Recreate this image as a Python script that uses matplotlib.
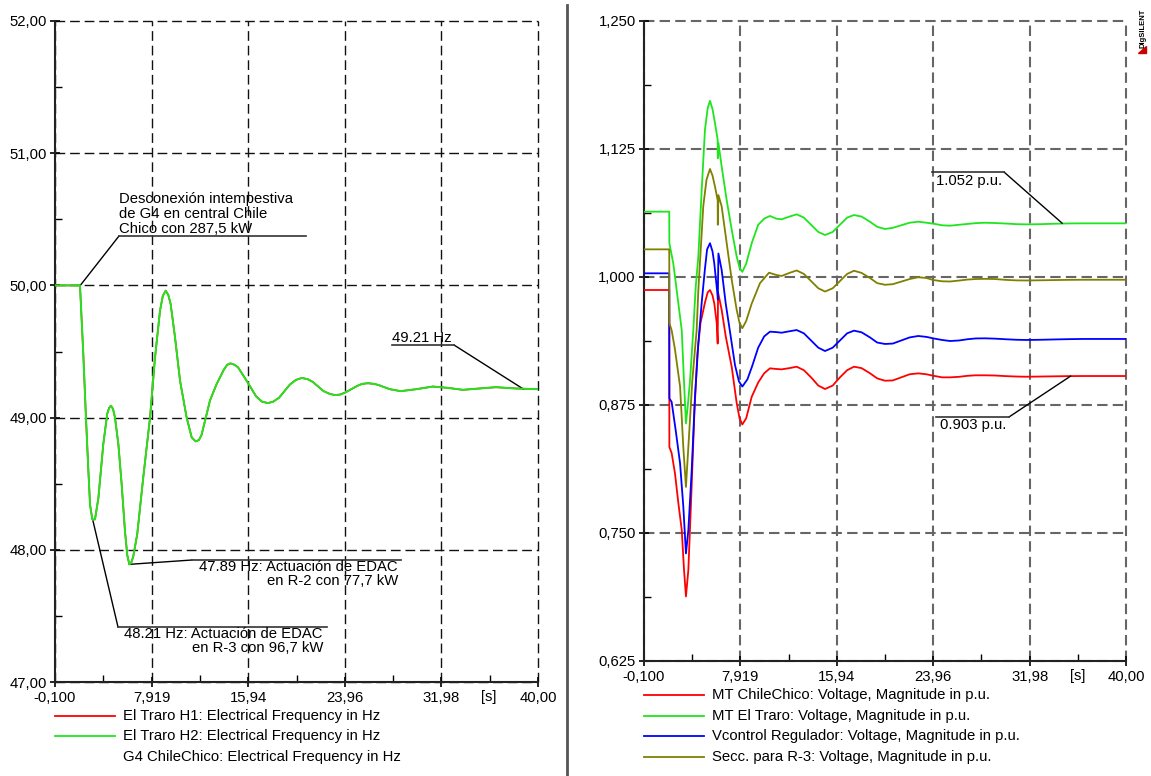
import matplotlib
matplotlib.use("Agg")
import matplotlib.pyplot as plt
from matplotlib.lines import Line2D
from matplotlib.patches import Polygon

plt.rcParams["font.family"] = ["Liberation Sans", "DejaVu Sans"]
plt.rcParams["font.size"] = 10.7

W, H = 1151, 776

# ---------- data: frequency (left) ----------
t_freq = [-0.1, 1.975, 2.25, 2.47, 2.67, 2.81, 3.0, 3.22, 3.5, 3.91, 4.24, 4.4,
          4.55, 4.72, 4.88, 5.16, 5.43, 5.71, 5.9, 6.07, 6.22, 6.40, 6.73, 7.23,
          7.79, 8.2, 8.62, 8.85, 9.09, 9.3, 9.5, 9.86, 10.28, 10.83, 11.25,
          11.58, 11.85, 12.07, 12.77, 13.3, 13.9, 14.2, 14.47, 14.8, 15.1, 15.8,
          16.6, 17.1, 17.58, 18.0, 18.5, 19.4, 19.9, 20.4, 20.9, 21.3, 22.2,
          22.7, 23.14, 23.6, 24.0, 25.0, 25.4, 25.88, 26.4, 26.8, 27.7, 28.6,
          29.9, 31.27, 32.5, 33.76, 35.1, 36.5, 38.2, 40.0]
f_traro = [50.0, 50.0, 49.48, 49.0, 48.60, 48.34, 48.23, 48.23, 48.39, 48.80,
           49.03, 49.075, 49.09, 49.065, 49.0, 48.80, 48.50, 48.14, 47.96, 47.89,
           47.90, 47.95, 48.12, 48.55, 49.0, 49.45, 49.81, 49.92, 49.96, 49.93,
           49.86, 49.61, 49.28, 49.0, 48.85, 48.82, 48.83, 48.87, 49.13, 49.25,
           49.36, 49.40, 49.41, 49.40, 49.38, 49.28, 49.16, 49.12, 49.11, 49.12,
           49.15, 49.25, 49.285, 49.30, 49.29, 49.27, 49.20, 49.18, 49.17,
           49.175, 49.19, 49.24, 49.255, 49.26, 49.255, 49.245, 49.215, 49.20,
           49.215, 49.235, 49.225, 49.21, 49.22, 49.23, 49.22, 49.215]

freq_labels = ["El Traro H1: Electrical Frequency in Hz",
               "El Traro H2: Electrical Frequency in Hz",
               "G4 ChileChico: Electrical Frequency in Hz"]

# ---------- data: voltages (right) ----------
t_green = [-0.1, 2.0, 2.01, 2.34, 2.62, 2.9, 3.04, 3.2, 3.39, 3.55, 3.73, 4.0,
           4.2, 4.42, 4.7, 4.97, 5.2, 5.39, 5.6, 5.81, 6.03, 6.04, 6.09, 6.36,
           6.78, 7.2, 7.61, 7.85, 8.08, 8.4, 8.86, 9.4, 9.9, 10.38, 10.9, 11.35,
           12.0, 12.6, 13.2, 13.8, 14.4, 14.96, 15.6, 16.2, 16.8, 17.37, 18.0,
           18.7, 19.3, 19.95, 20.6, 21.3, 22.0, 22.72, 23.4, 24.0, 24.7, 25.36,
           26.1, 26.8, 27.5, 28.27, 29.1, 30.0, 30.9, 31.74, 32.9, 34.0, 35.2,
           36.5, 38.2, 40.0]
v_green = [1.0638, 1.0638, 1.033, 1.013, 0.987, 0.961, 0.948, 0.905, 0.857,
           0.875, 0.899, 0.948, 0.99, 1.02, 1.085, 1.1436, 1.165, 1.172, 1.164,
           1.15, 1.134, 1.116, 1.131, 1.108, 1.075, 1.046, 1.02, 1.009, 1.005,
           1.013, 1.033, 1.051, 1.057, 1.0596, 1.057, 1.0563, 1.059, 1.0612,
           1.058, 1.051, 1.044, 1.041, 1.044, 1.051, 1.058, 1.0605, 1.059,
           1.054, 1.049, 1.0469, 1.048, 1.0505, 1.053, 1.054, 1.053, 1.052,
           1.0505, 1.0501, 1.051, 1.0518, 1.0526, 1.053, 1.0527, 1.0522, 1.0516,
           1.0514, 1.0516, 1.052, 1.0523, 1.0524, 1.0524, 1.0524]

t_olive = [-0.1, 2.0, 2.01, 2.2, 2.48, 2.9, 3.17, 3.39, 3.59, 3.92, 4.28, 4.42,
           4.83, 5.1, 5.39, 5.6, 5.81, 6.03, 6.04, 6.09, 6.36, 6.78, 7.2, 7.61,
           7.85, 8.08, 8.4, 8.86, 9.55, 10.3, 10.9, 11.35, 12.0, 12.6, 13.2,
           13.8, 14.4, 14.96, 15.6, 16.2, 16.8, 17.37, 18.0, 18.7, 19.3, 19.95,
           20.6, 21.3, 22.0, 22.72, 23.4, 24.0, 24.7, 25.36, 26.1, 26.8, 27.5,
           28.27, 29.1, 30.0, 30.9, 31.74, 32.9, 34.0, 35.2, 36.5, 38.2, 40.0]
v_olive = [1.027, 1.027, 0.955, 0.948, 0.929, 0.893, 0.834, 0.795, 0.834, 0.899,
           0.948, 0.987, 1.069, 1.095, 1.1055, 1.099, 1.088, 1.075, 1.051, 1.080,
           1.069, 1.033, 0.997, 0.968, 0.955, 0.950, 0.957, 0.974, 0.994, 1.0042,
           1.002, 1.001, 1.004, 1.0064, 1.003, 0.996, 0.989, 0.9858, 0.989,
           0.996, 1.003, 1.0061, 1.004, 0.999, 0.994, 0.9924, 0.993, 0.9955,
           0.998, 0.9998, 0.999, 0.997, 0.9958, 0.9956, 0.9965, 0.9975, 0.998,
           0.9982, 0.998, 0.9972, 0.9967, 0.9966, 0.9968, 0.997, 0.9972, 0.9973,
           0.9973, 0.9973]

t_blue = [-0.1, 2.0, 2.01, 2.2, 2.54, 2.9, 3.17, 3.39, 3.59, 3.87, 4.14, 4.42,
          4.7, 4.97, 5.15, 5.39, 5.6, 5.75, 6.03, 6.04, 6.09, 6.36, 6.7, 7.1,
          7.47, 7.8, 8.08, 8.5, 8.9, 9.4, 9.9, 10.38, 10.9, 11.35, 12.0, 12.6,
          13.2, 13.8, 14.4, 14.96, 15.6, 16.2, 16.8, 17.37, 18.0, 18.7, 19.3,
          19.95, 20.6, 21.3, 22.0, 22.72, 23.4, 24.0, 24.7, 25.36, 26.1, 26.8,
          27.5, 28.27, 29.1, 30.0, 30.9, 31.74, 32.9, 34.0, 35.2, 36.5, 38.2,
          40.0]
v_blue = [1.0036, 1.0036, 0.8815, 0.878, 0.850, 0.818, 0.776, 0.730, 0.753,
          0.8115, 0.883, 0.935, 0.975, 1.008, 1.027, 1.033, 1.025, 1.013, 0.981,
          0.978, 1.023, 1.007, 0.974, 0.943, 0.914, 0.898, 0.893, 0.900, 0.913,
          0.931, 0.942, 0.9466, 0.9462, 0.9456, 0.947, 0.9482, 0.945, 0.938,
          0.931, 0.9277, 0.931, 0.938, 0.945, 0.9476, 0.946, 0.941, 0.936,
          0.9346, 0.935, 0.938, 0.941, 0.9424, 0.9415, 0.940, 0.9385, 0.9375,
          0.938, 0.9392, 0.94, 0.9401, 0.9398, 0.9392, 0.9387, 0.9385, 0.9387,
          0.939, 0.9393, 0.9395, 0.9395, 0.9395]

t_red = [-0.1, 2.0, 2.01, 2.2, 2.48, 2.76, 3.04, 3.23, 3.39, 3.59, 3.81, 4.09,
         4.34, 4.6, 4.97, 5.2, 5.39, 5.6, 5.75, 5.95, 6.03, 6.06, 6.36, 6.7,
         7.2, 7.61, 7.85, 8.08, 8.4, 8.86, 9.4, 9.9, 10.38, 10.9, 11.35, 12.0,
         12.6, 13.2, 13.8, 14.4, 14.96, 15.6, 16.2, 16.8, 17.37, 18.0, 18.7,
         19.3, 19.95, 20.6, 21.3, 22.0, 22.72, 23.4, 24.0, 24.7, 25.36, 26.1,
         26.8, 27.5, 28.27, 29.1, 30.0, 30.9, 31.74, 32.9, 34.0, 35.2, 36.5,
         38.2, 40.0]
v_red = [0.9873, 0.9873, 0.834, 0.828, 0.808, 0.779, 0.753, 0.714, 0.688,
         0.714, 0.779, 0.867, 0.925, 0.955, 0.975, 0.985, 0.9873, 0.982, 0.974,
         0.955, 0.935, 0.985, 0.968, 0.942, 0.912, 0.877, 0.862, 0.856, 0.862,
         0.883, 0.897, 0.906, 0.9108, 0.9102, 0.9098, 0.911, 0.9124, 0.909,
         0.902, 0.894, 0.8906, 0.894, 0.902, 0.909, 0.9124, 0.911, 0.906,
         0.901, 0.8987, 0.899, 0.902, 0.905, 0.9059, 0.905, 0.9035, 0.902,
         0.902, 0.9025, 0.9035, 0.904, 0.904, 0.9038, 0.9032, 0.9028, 0.9026,
         0.9028, 0.903, 0.9032, 0.9033, 0.9033, 0.9033]

volt_labels = ["MT ChileChico: Voltage, Magnitude in p.u.",
               "MT El Traro: Voltage, Magnitude in p.u.",
               "Vcontrol Regulador: Voltage, Magnitude in p.u.",
               "Secc. para R-3: Voltage, Magnitude in p.u."]

x_ticks = [-0.1, 7.919, 15.94, 23.96, 31.98, 40.0]
x_ticklabels = ["-0,100", "7,919", "15,94", "23,96", "31,98", "40,00"]
x_minor = [3.91, 11.93, 19.95, 27.97, 35.99]

freq_ticks = [47, 48, 49, 50, 51, 52]
freq_ticklabels = ["47,00", "48,00", "49,00", "50,00", "51,00", "52,00"]
volt_ticks = [0.625, 0.75, 0.875, 1.0, 1.125, 1.25]
volt_ticklabels = ["0,625", "0,750", "0,875", "1,000", "1,125", "1,250"]

RED, GREEN, BLUE, OLIVE = "#ff0000", "#1ee61e", "#0000ff", "#808000"


def fx(x):
    return x / W


def fy(y):
    return 1 - y / H


fig = plt.figure(figsize=(W / 100, H / 100), dpi=100)


def setup_axes(ax, yticks, yticklabels, ylim, grid_color, grid_lw, dash):
    ax.set_xlim(-0.1, 40.0)
    ax.set_ylim(*ylim)
    ax.set_xticks(x_ticks)
    ax.set_xticklabels(x_ticklabels)
    ax.set_xticks(x_minor, minor=True)
    ax.set_yticks(yticks)
    ax.set_yticklabels(yticklabels)
    ax.set_yticks([(a + b) / 2 for a, b in zip(yticks[:-1], yticks[1:])], minor=True)
    ax.grid(True, which="major", color=grid_color, lw=grid_lw, linestyle=(0, dash))
    for gl in ax.get_xgridlines() + ax.get_ygridlines():
        gl.set_clip_on(False)
    ax.spines["top"].set_visible(False)
    ax.spines["right"].set_visible(False)
    for s in ("left", "bottom"):
        ax.spines[s].set_linewidth(1.5)
        ax.spines[s].set_color("#222222")
    ax.tick_params(which="major", direction="inout", length=7, width=1.2, pad=3)
    ax.tick_params(axis="y", which="major", pad=2.5)
    ax.tick_params(which="minor", direction="in", length=5, width=1.0)
    ax.set_facecolor("white")
    ax.set_axisbelow(True)


# ---------- left: frequency ----------
ax1 = fig.add_axes([fx(55), fy(682), (538 - 55) / W, (682 - 21) / H])
setup_axes(ax1, freq_ticks, freq_ticklabels, (47, 52), "#111111", 1.0, (7, 3.5))
ax1.plot(t_freq, f_traro, color=RED, lw=1.2, zorder=3)
ax1.plot(t_freq, f_traro, color=GREEN, lw=1.4, zorder=4)
fig.text(fx(489), fy(697), "[s]", ha="center", va="center")

# ---------- right: voltage ----------
ax2 = fig.add_axes([fx(644), fy(661), (1126 - 644) / W, (661 - 21) / H])
setup_axes(ax2, volt_ticks, volt_ticklabels, (0.625, 1.25), "#666666", 1.5, (5, 2.5))
ax2.plot(t_red, v_red, color=RED, lw=1.3, zorder=3)
ax2.plot(t_green, v_green, color=GREEN, lw=1.3, zorder=3)
ax2.plot(t_blue, v_blue, color=BLUE, lw=1.3, zorder=3)
ax2.plot(t_olive, v_olive, color=OLIVE, lw=1.3, zorder=3)
fig.text(fx(1078), fy(676), "[s]", ha="center", va="center")


# ---------- annotations ----------
def hline(x0, x1, y, color="#333333"):
    fig.add_artist(Line2D([fx(x0), fx(x1)], [fy(y), fy(y)], color=color, lw=1.2))


def leader(ax, xy, x, y):
    ax.annotate("", xy=xy, xycoords="data", xytext=(fx(x), fy(y)),
                textcoords="figure fraction",
                arrowprops=dict(arrowstyle="-", color="black", lw=1.0,
                                shrinkA=0, shrinkB=0))


# left plot
fig.text(fx(119), fy(214), "Desconexión intempestiva\nde G4 en central Chile\nChico con 287,5 kW",
         ha="left", va="center", linespacing=1.05)
hline(119, 306, 236)
leader(ax1, (2.0, 50.0), 119, 236)

fig.text(fx(392), fy(338), "49.21 Hz", ha="left", va="center")
hline(392, 454, 345)
leader(ax1, (38.8, 49.215), 454, 345)

hline(192, 401, 560)
leader(ax1, (6.07, 47.89), 192, 560)
fig.text(fx(398), fy(574), "47.89 Hz: Actuación de EDAC\nen R-2 con 77,7 kW",
         ha="right", va="center", multialignment="right", linespacing=1.05)

hline(118, 327, 627)
leader(ax1, (3.05, 48.22), 118, 627)
fig.text(fx(323), fy(641), "48.21 Hz: Actuación de EDAC\nen R-3 con 96,7 kW",
         ha="right", va="center", multialignment="right", linespacing=1.05)

# right plot
hline(932, 1004, 172)
leader(ax2, (34.7, 1.0524), 1004, 172)
fig.text(fx(936), fy(181), "1.052 p.u.", ha="left", va="center")

hline(936, 1009, 417)
leader(ax2, (35.4, 0.9033), 1009, 417)
fig.text(fx(940), fy(425), "0.903 p.u.", ha="left", va="center")

# ---------- legends (drawn like the original program) ----------
for i, (lab, col) in enumerate(zip(freq_labels, [RED, GREEN, None])):
    y = [716, 736, 757][i]
    if col:
        fig.add_artist(Line2D([fx(55), fx(115)], [fy(y), fy(y)], color=col, lw=1.3))
    fig.text(fx(123), fy(y), lab, ha="left", va="center")

for i, (lab, col) in enumerate(zip(volt_labels, [RED, GREEN, BLUE, OLIVE])):
    y = [695, 716, 736, 757][i]
    fig.add_artist(Line2D([fx(644), fx(704)], [fy(y), fy(y)], color=col, lw=1.3))
    fig.text(fx(712), fy(y), lab, ha="left", va="center")

# divider between the two plots
fig.add_artist(Line2D([fx(567), fx(567)], [fy(5), fy(776)], color="#555555", lw=2))

# program mark
fig.text(fx(1143), fy(28), "DIgSILENT", rotation=90, fontsize=5.5,
         fontweight="bold", ha="center", va="center")
fig.add_artist(Polygon([[fx(1138), fy(53)], [fx(1146), fy(53)], [fx(1146), fy(46)]],
                       closed=True, color="#cc0000", transform=fig.transFigure))

fig.savefig("out.png", dpi=100)
